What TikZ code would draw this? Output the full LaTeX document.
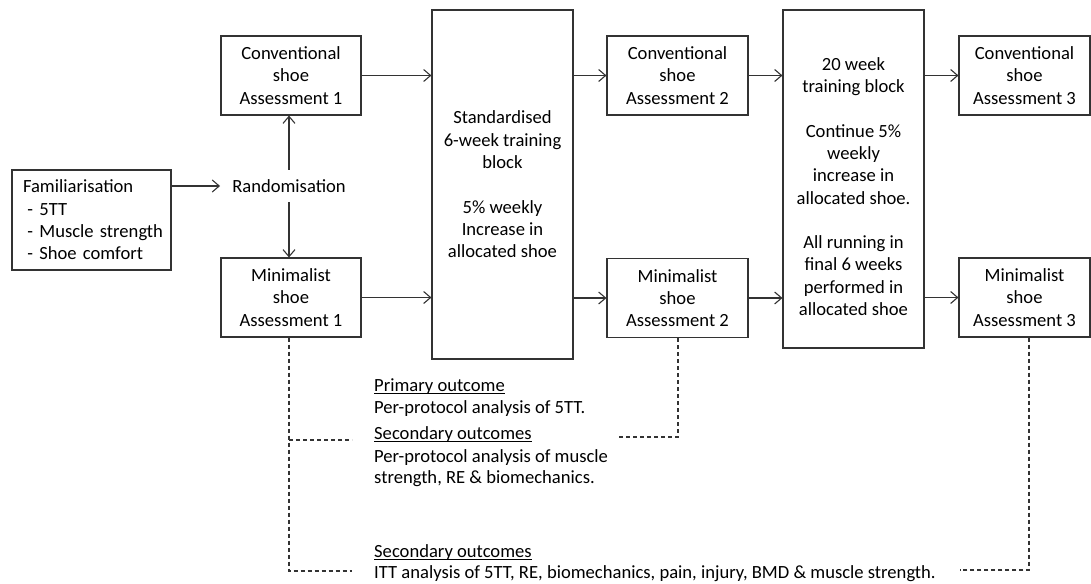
\documentclass[tikz,border=0pt]{standalone}
\usepackage{fontspec}
\setmainfont{Carlito}
\usetikzlibrary{arrows.meta}
\begin{document}
\begin{tikzpicture}[x=1pt,y=-1pt,
  every node/.style={font=\fontsize{18.6}{22.3}\selectfont, text=black},
  box/.style={draw=black!80, line width=1.1pt, align=center, inner sep=0pt, minimum height=79pt},
  arr/.style={draw=black!80, line width=1.1pt, -{Straight Barb[length=7pt,width=12pt]}},
  dsh/.style={draw=black!80, line width=1.1pt, dash pattern=on 4pt off 3pt},
  txt/.style={anchor=base west, inner sep=0pt},
  uln/.style={draw=black, line width=0.9pt}
]
\useasboundingbox (0,0) rectangle (1091,583);

\node[box, minimum width=159pt, minimum height=100pt, align=left, text width=137pt, inner xsep=11pt] (fam) at (91.5,220)
  {\mbox{Familiarisation}\\\mbox{\hspace*{4.5pt}- 5TT}\\\mbox{\hspace*{4.5pt}- Muscle strength}\\\mbox{\hspace*{4.5pt}- Shoe comfort}};
\node[inner xsep=12pt, inner ysep=0pt, minimum height=32pt] (rand) at (289,186) {Randomisation};

\node[box, minimum width=140pt] (ca1) at (291,75.5) {Conventional\\shoe\\Assessment 1};
\node[box, minimum width=140pt] (ma1) at (291,297.5) {Minimalist\\shoe\\Assessment 1};

\node[box, minimum width=141pt, minimum height=349pt] (std) at (502.5,184.5)
  {Standardised\\6-week training\\block\\[22.3pt]5\% weekly\\Increase in\\allocated shoe};

\node[box, minimum width=141pt] (ca2) at (677.5,75.5) {Conventional\\shoe\\Assessment 2};
\node[box, minimum width=141pt] (ma2) at (677.5,298) {Minimalist\\shoe\\Assessment 2};

\node[box, minimum width=141pt, minimum height=338pt] (tb2) at (853.5,179) {};
\node[align=center, inner sep=0pt] (tb2t) at (853.5,186.5)
  {20 week\\training block\\[22.3pt]Continue 5\%\\weekly\\increase in\\allocated shoe.\\[22.3pt]All running in\\final 6 weeks\\performed in\\allocated shoe};

\node[box, minimum width=131pt] (ca3) at (1024.5,75.5) {Conventional\\shoe\\Assessment 3};
\node[box, minimum width=131pt] (ma3) at (1024.5,297.5) {Minimalist\\shoe\\Assessment 3};

\draw[arr] (fam.east |- rand) -- (rand.west);
\draw[arr] (rand.north) -- (rand.north |- ca1.south);
\draw[arr] (rand.south) -- (rand.south |- ma1.north);
\draw[arr] (ca1.east) -- (ca1.east -| std.west);
\draw[arr] (ma1.east) -- (ma1.east -| std.west);
\draw[arr] (std.east |- ca2) -- (ca2.west);
\draw[arr] (std.east |- ma2) -- (ma2.west);
\draw[arr] (ca2.east) -- (ca2.east -| tb2.west);
\draw[arr] (ma2.east) -- (ma2.east -| tb2.west);
\draw[arr] (tb2.east |- ca3) -- (ca3.west);
\draw[arr] (tb2.east |- ma3) -- (ma3.west);

\coordinate (k1) at (289,571);
\coordinate (e1) at (352,571);
\coordinate (j1) at (289,440);
\coordinate (e2) at (352,440);
\coordinate (k2) at (678,437);
\coordinate (e3) at (617,437);
\coordinate (k3) at (1029,570);
\coordinate (e4) at (960,570);
\draw[dsh] (ma1.south -| k1) -- (k1) -- (e1);
\draw[dsh] (j1) -- (e2);
\draw[dsh] (ma2.south -| k2) -- (k2) -- (e3);
\draw[dsh] (ma3.south -| k3) -- (k3) -- (e4);

\node[txt] (o1) at (374,391) {Primary outcome};
\node[txt] (o2) at (374,413) {Per-protocol analysis of 5TT.};
\node[txt] (o3) at (374,439) {Secondary outcomes};
\node[txt] (o4) at (374,462) {Per-protocol analysis of muscle};
\node[txt] (o5) at (374,483) {strength, RE \& biomechanics.};
\node[txt] (o6) at (374,557) {Secondary outcomes};
\node[txt] (o7) at (374,578) {ITT analysis of 5TT, RE, biomechanics, pain, injury, BMD \& muscle strength.};
\draw[uln] ([yshift=-2.5pt]o1.base west) -- ([yshift=-2.5pt]o1.base east);
\draw[uln] ([yshift=-2.5pt]o3.base west) -- ([yshift=-2.5pt]o3.base east);
\draw[uln] ([yshift=-2.5pt]o6.base west) -- ([yshift=-2.5pt]o6.base east);
\end{tikzpicture}
\end{document}
